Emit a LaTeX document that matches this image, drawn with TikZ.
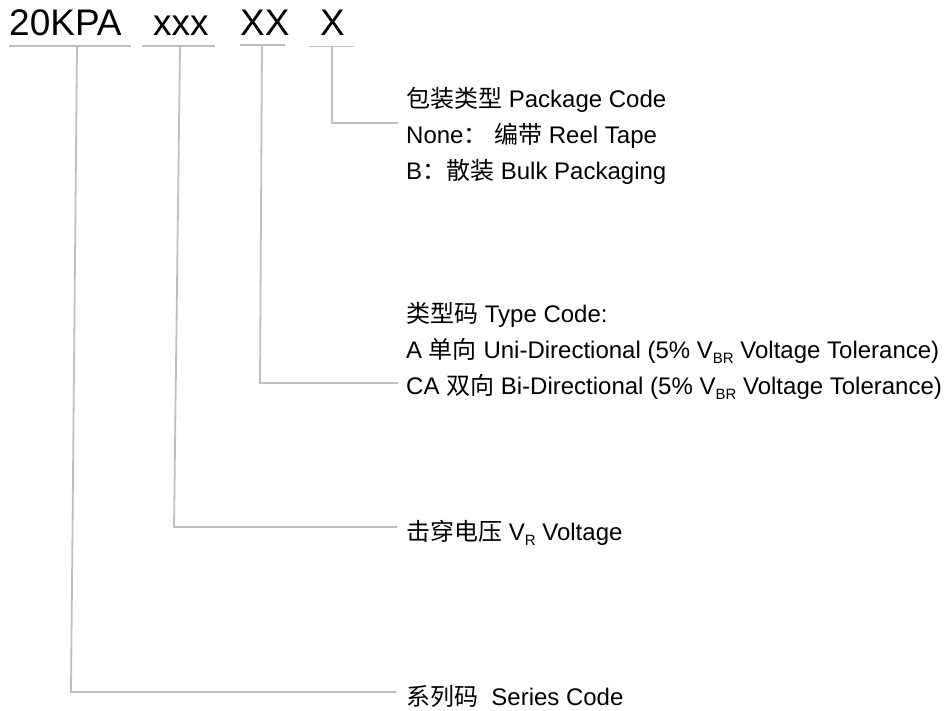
\documentclass[tikz,border=0pt]{standalone}
\usepackage{fontspec}
\setmainfont{Liberation Sans}
\newfontfamily\cjk{Noto Sans CJK SC}
\definecolor{linegray}{RGB}{191,191,191}
\newcommand{\subx}[1]{\raisebox{-0.22em}{\fontsize{15}{15}\selectfont #1}}
\begin{document}
\begin{tikzpicture}[x=1pt,y=-1pt,
  conn/.style={draw=linegray, line width=1.8pt},
  big/.style={anchor=base west, inner sep=0pt, font=\fontsize{37}{40}\selectfont},
  lbl/.style={anchor=base west, inner sep=0pt, font=\fontsize{24}{28}\selectfont}]
\useasboundingbox (0,0) rectangle (949,711);
% top code
\node[big] (c1) at (9,35.5) {20KPA};
\node[big] (c2) at (153,35.5) {xxx};
\node[big] (c3) at (240,35.5) {XX};
\node[big] (c4) at (320,35.5) {X};
% underlines
\coordinate (u1a) at (9,46);   \coordinate (u1b) at (131,46);
\coordinate (u2a) at (142,46); \coordinate (u2b) at (215,46);
\coordinate (u3a) at (240,45.3); \coordinate (u3b) at (285,45.3);
\coordinate (u4a) at (309,46.5); \coordinate (u4b) at (354,46.5);
\draw[conn] (u1a) -- (u1b);
\draw[conn] (u2a) -- (u2b);
\draw[conn] (u3a) -- (u3b);
\draw[conn] (u4a) -- (u4b);
% labels
\node[lbl] (p1) at (406,107.5) {{\cjk 包装类型} Package Code};
\node[lbl] (p2) at (406,143.5) {None{\cjk ：} {\cjk 编带} Reel Tape};
\node[lbl] (p3) at (406,179.5) {B{\cjk ：}{\cjk 散装} Bulk Packaging};
\node[lbl] (t1) at (406,322.5) {{\cjk 类型码} Type Code:};
\node[lbl] (t2) at (406,358.5) {A {\cjk 单向} Uni-Directional (5\% V\subx{BR} Voltage Tolerance)};
\node[lbl] (t3) at (406,394.5) {CA {\cjk 双向} Bi-Directional (5\% V\subx{BR} Voltage Tolerance)};
\node[lbl] (v1) at (406,540) {{\cjk 击穿电压} V\subx{R} Voltage};
\node[lbl] (s1) at (406,705) {{\cjk 系列码}\hspace{0.55em}Series Code};
% connectors
\coordinate (d4) at (332,46.5); \coordinate (e4) at (332,123); \coordinate (f4) at (398,123);
\coordinate (d3) at (262,45.3); \coordinate (e3) at (260,383); \coordinate (f3) at (398,383);
\coordinate (d2) at (180,46);   \coordinate (e2) at (174,527); \coordinate (f2) at (397,527);
\coordinate (d1) at (77,46);    \coordinate (e1) at (71,692);  \coordinate (f1) at (396,692);
\draw[conn] (d4) -- (e4) -- (f4);
\draw[conn] (d3) -- (e3) -- (f3);
\draw[conn] (d2) -- (e2) -- (f2);
\draw[conn] (d1) -- (e1) -- (f1);
\end{tikzpicture}
\end{document}
